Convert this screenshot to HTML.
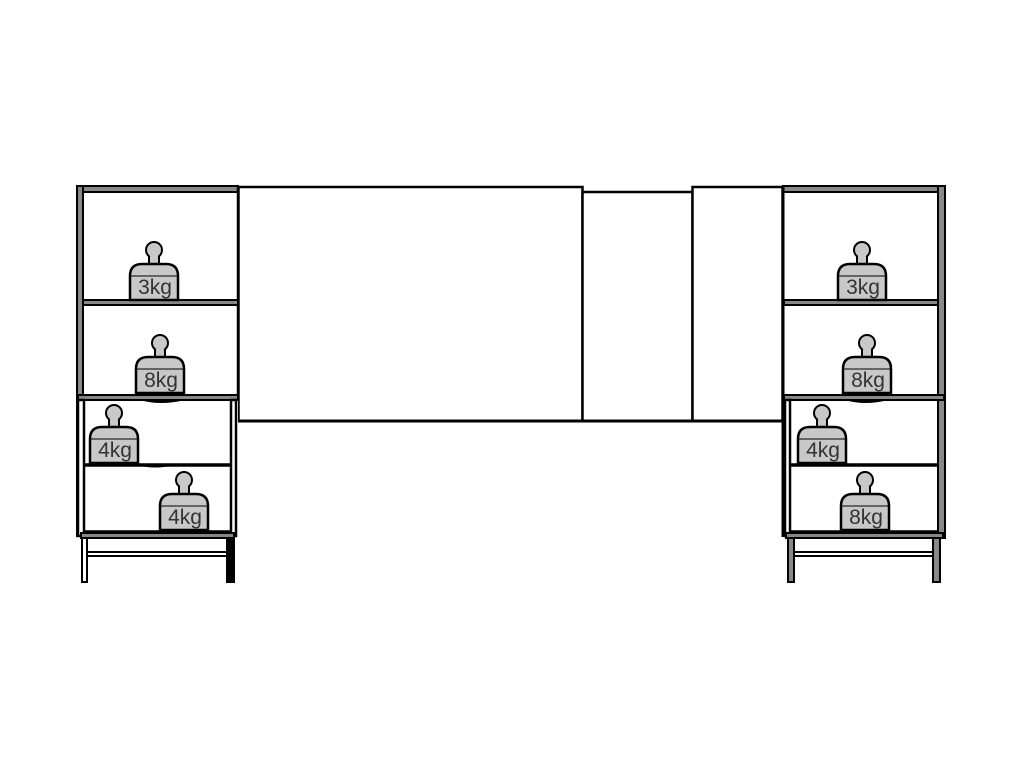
<!DOCTYPE html>
<html><head><meta charset="utf-8"><style>html,body{margin:0;padding:0;background:#fff;}svg{display:block}</style></head>
<body>
<svg width="1024" height="768" viewBox="0 0 1024 768" xmlns="http://www.w3.org/2000/svg">
<defs>
<g id="wt">
  <circle cx="0" cy="-50" r="8" fill="#c8c8c8" stroke="#000" stroke-width="2"/>
  <rect x="-5" y="-44" width="10" height="8" fill="#c8c8c8" stroke="none"/>
  <path d="M-5 -44 L-5 -37 M5 -44 L5 -37" stroke="#000" stroke-width="2"/>
  <path d="M-24 0 L-24 -24 Q-24 -36 -12 -36 L12 -36 Q24 -36 24 -24 L24 0 Z" fill="#c8c8c8" stroke="#000" stroke-width="2.5"/>
  <line x1="-23" y1="-24" x2="23" y2="-24" stroke="#000" stroke-width="1"/>
</g>
</defs>
<g fill="#888" stroke="#000" stroke-width="2">
<rect x="238.5" y="187" width="344" height="234" fill="#fff" stroke-width="2.5"/>
<rect x="582.5" y="192" width="110" height="229" fill="#fff" stroke-width="2.5"/>
<rect x="692.5" y="187" width="90" height="234" fill="#fff" stroke-width="2.5"/>
<line x1="238" y1="421" x2="783" y2="421" stroke-width="3"/>

<rect x="83" y="192" width="155" height="345" fill="#fff" stroke="none"/>
<rect x="77" y="186" width="161" height="6"/>
<rect x="77" y="186" width="6" height="350"/>
<line x1="238" y1="186" x2="238" y2="398" stroke-width="2.5"/>
<rect x="83" y="300" width="155" height="5"/>
<rect x="78" y="395" width="160" height="5"/>
<rect x="78" y="400" width="6" height="136" fill="#fff" stroke-width="2.5"/>
<rect x="231" y="400" width="5" height="136" fill="#fff" stroke-width="2.5"/>
<line x1="84" y1="465" x2="231" y2="465" stroke-width="3.5"/>
<line x1="84" y1="532" x2="231" y2="532" stroke-width="3.5"/>
<rect x="81" y="533" width="153" height="5"/>
<rect x="82" y="538" width="5" height="44" fill="#fff" stroke-width="2"/>
<rect x="227" y="538" width="7" height="44" fill="#000"/>
<rect x="87" y="552" width="140" height="4" fill="#fff" stroke-width="2"/>

<rect x="783" y="192" width="155" height="345" fill="#fff" stroke="none"/>
<rect x="783" y="186" width="162" height="6"/>
<rect x="938" y="186" width="7" height="352"/>
<line x1="783" y1="186" x2="783" y2="537" stroke-width="3"/>
<rect x="784" y="300" width="154" height="5"/>
<rect x="784" y="395" width="160" height="5"/>
<rect x="785" y="400" width="5" height="136" fill="#fff" stroke-width="2.5"/>
<line x1="790" y1="465" x2="938" y2="465" stroke-width="3.5"/>
<line x1="790" y1="532" x2="938" y2="532" stroke-width="3.5"/>
<rect x="786" y="533" width="157" height="5"/>
<rect x="788" y="538" width="6" height="44"/>
<rect x="933" y="538" width="7" height="44"/>
<rect x="794" y="552" width="139" height="4" fill="#fff" stroke-width="2"/>
</g>
<path d="M140 400 Q160 406 185 400 Z" fill="#000"/>
<path d="M136 465 Q155 470 175 465 Z" fill="#000"/>
<path d="M845 400 Q865 406 888 400 Z" fill="#000"/>

<g font-family="Liberation Sans, sans-serif" font-size="21" fill="#333" text-anchor="middle">
<use href="#wt" x="154" y="300"/><text x="155" y="294">3kg</text>
<use href="#wt" x="160" y="393"/><text x="161" y="387">8kg</text>
<use href="#wt" x="114" y="463"/><text x="115" y="457">4kg</text>
<use href="#wt" x="184" y="530"/><text x="185" y="524">4kg</text>
<use href="#wt" x="862" y="300"/><text x="863" y="294">3kg</text>
<use href="#wt" x="867" y="393"/><text x="868" y="387">8kg</text>
<use href="#wt" x="822" y="463"/><text x="823" y="457">4kg</text>
<use href="#wt" x="865" y="530"/><text x="866" y="524">8kg</text>
</g>
</svg>
</body></html>
